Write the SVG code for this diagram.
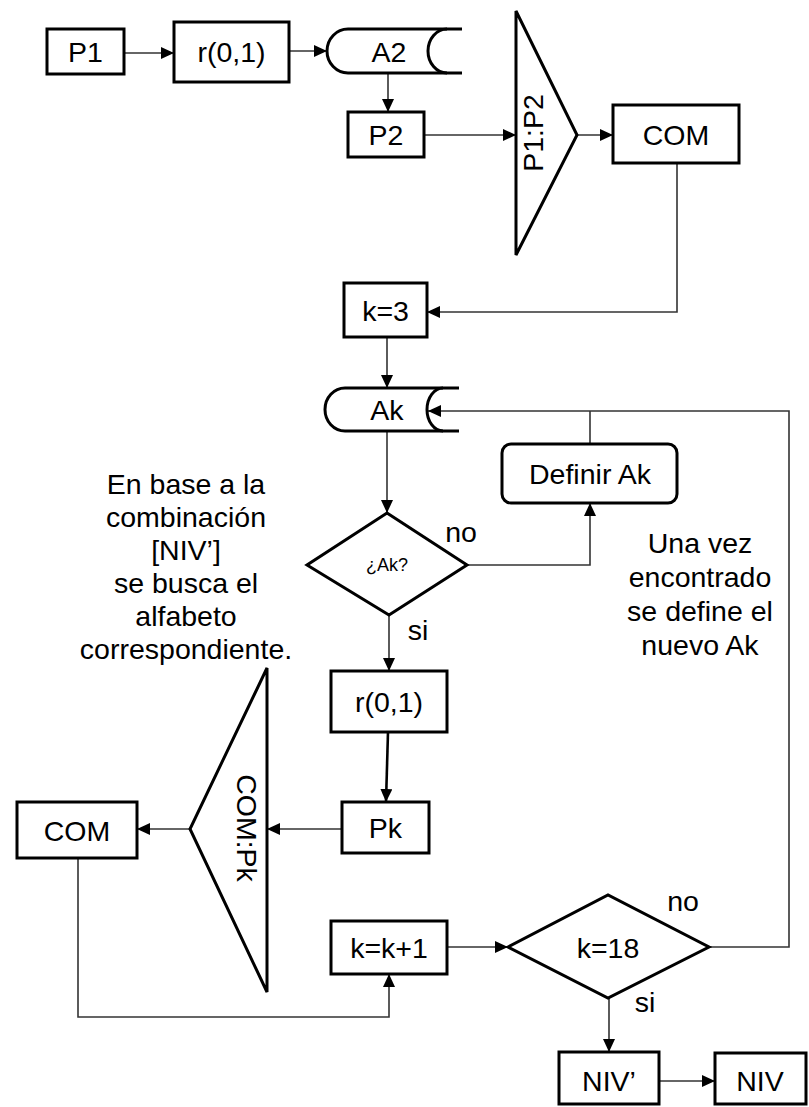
<svg xmlns="http://www.w3.org/2000/svg" width="809" height="1107" viewBox="0 0 809 1107">
<style>
.box{fill:#fff;stroke:#000;stroke-width:3}
.shape{fill:none;stroke:#000;stroke-width:3}
.t{font-family:"Liberation Sans",Arial,sans-serif;font-size:28.5px;fill:#000;text-anchor:middle}
.note{font-family:"Liberation Sans",Arial,sans-serif;font-size:28.5px;fill:#000;text-anchor:middle}
.small{font-family:"Liberation Sans",Arial,sans-serif;font-size:18px;fill:#000;text-anchor:middle}
.c{fill:none;stroke:#333;stroke-width:1.6}
.cb{fill:none;stroke:#000;stroke-width:2.6}
</style>
<defs>
<marker id="ah" markerUnits="userSpaceOnUse" markerWidth="14" markerHeight="12" refX="13" refY="6" orient="auto">
<path d="M0,0 L13,6 L0,12 z" fill="#000"/>
</marker>
</defs>
<rect width="809" height="1107" fill="#fff"/>
<g id="connectors">
<path class="c" d="M124,53 H174" marker-end="url(#ah)"/>
<path class="c" d="M289,51 H327" marker-end="url(#ah)"/>
<path class="c" d="M388,73 V112" marker-end="url(#ah)"/>
<path class="c" d="M424,135 H516" marker-end="url(#ah)"/>
<path class="c" d="M577,135 H613" marker-end="url(#ah)"/>
<path class="c" d="M677,163 V312 H427" marker-end="url(#ah)"/>
<path class="c" d="M387,337 V388" marker-end="url(#ah)"/>
<path class="c" d="M709,947 H789 V411 H428" marker-end="url(#ah)"/>
<path class="c" d="M590,444 V411"/>
<path class="c" d="M387,431 V513" marker-end="url(#ah)"/>
<path class="c" d="M467,565 H590 V503" marker-end="url(#ah)"/>
<path class="c" d="M389,615 V671" marker-end="url(#ah)"/>
<path class="cb" d="M388,732 L386,802" marker-end="url(#ah)"/>
<path class="c" d="M342,829 H267" marker-end="url(#ah)"/>
<path class="c" d="M190,829 H137" marker-end="url(#ah)"/>
<path class="c" d="M78,858 V1017 H389 V974" marker-end="url(#ah)"/>
<path class="c" d="M447,947 H508" marker-end="url(#ah)"/>
<path class="c" d="M609,998 V1052" marker-end="url(#ah)"/>
<path class="c" d="M659,1081 H715" marker-end="url(#ah)"/>
</g>
<g id="p1"><rect class="box" x="47" y="29" width="77" height="45"/><text class="t" x="85.5" y="62">P1</text></g>
<g id="r01a"><rect class="box" x="174" y="22" width="115" height="60"/><text class="t" x="231.5" y="62">r(0,1)</text></g>
<g id="a2"><path class="shape" d="M462,29 H348 A21 22 0 0 0 348,73 H462"/><path class="shape" d="M447,29 A19 22 0 0 0 447,73"/><text class="t" x="389" y="62">A2</text></g>
<g id="p2"><rect class="box" x="348" y="112" width="76" height="45"/><text class="t" x="386" y="145">P2</text></g>
<g id="p1p2"><polygon class="box" points="516,11 577,135 516,255"/><text class="t" transform="translate(543,133) rotate(-90)" x="0" y="0">P1:P2</text></g>
<g id="com1"><rect class="box" x="613" y="105" width="126" height="58"/><text class="t" x="676" y="145">COM</text></g>
<g id="k3"><rect class="box" x="344" y="283" width="83" height="54"/><text class="t" x="385.5" y="321">k=3</text></g>
<g id="ak"><path class="shape" d="M459,388 H345 A20 21.5 0 0 0 345,431 H459"/><path class="shape" d="M443,388 A16 21.5 0 0 0 443,431"/><text class="t" x="387" y="420">Ak</text></g>
<g id="definir"><rect class="box" x="502" y="444" width="175" height="59" rx="9"/><text class="t" x="590" y="484">Definir Ak</text></g>
<g id="dak"><polygon class="box" points="387,513 467,565 389,615 307,565"/><text class="small" x="387" y="571">¿Ak?</text></g>
<text class="t" x="461" y="542">no</text>
<text class="t" x="418" y="640">si</text>
<g id="note1">
<text class="note" x="186" y="494">En base a la</text>
<text class="note" x="186" y="527">combinación</text>
<text class="note" x="186" y="560">[NIV’]</text>
<text class="note" x="186" y="593">se busca el</text>
<text class="note" x="186" y="626">alfabeto</text>
<text class="note" x="186" y="659">correspondiente.</text>
</g>
<g id="note2">
<text class="note" x="700" y="553">Una vez</text>
<text class="note" x="700" y="587">encontrado</text>
<text class="note" x="700" y="621">se define el</text>
<text class="note" x="700" y="655">nuevo Ak</text>
</g>
<g id="r01b"><rect class="box" x="331" y="671" width="116" height="61"/><text class="t" x="389" y="712">r(0,1)</text></g>
<g id="pk"><rect class="box" x="342" y="802" width="87" height="51"/><text class="t" x="385.5" y="838">Pk</text></g>
<g id="compk"><polygon class="box" points="267,668 267,992 190,829"/><text class="t" transform="translate(237,828) rotate(90)" x="0" y="0">COM:Pk</text></g>
<g id="com2"><rect class="box" x="17" y="802" width="120" height="56"/><text class="t" x="77" y="841">COM</text></g>
<g id="kk1"><rect class="box" x="331" y="921" width="116" height="53"/><text class="t" x="389" y="958">k=k+1</text></g>
<g id="k18"><polygon class="box" points="508,947 608,895 709,947 608,998"/><text class="t" x="608" y="958">k=18</text></g>
<text class="t" x="683" y="911">no</text>
<text class="t" x="645" y="1012">si</text>
<g id="nivp"><rect class="box" x="559" y="1052" width="100" height="52"/><text class="t" x="609" y="1091">NIV’</text></g>
<g id="niv"><rect class="box" x="715" y="1053" width="91" height="51"/><text class="t" x="760" y="1091">NIV</text></g>
</svg>
